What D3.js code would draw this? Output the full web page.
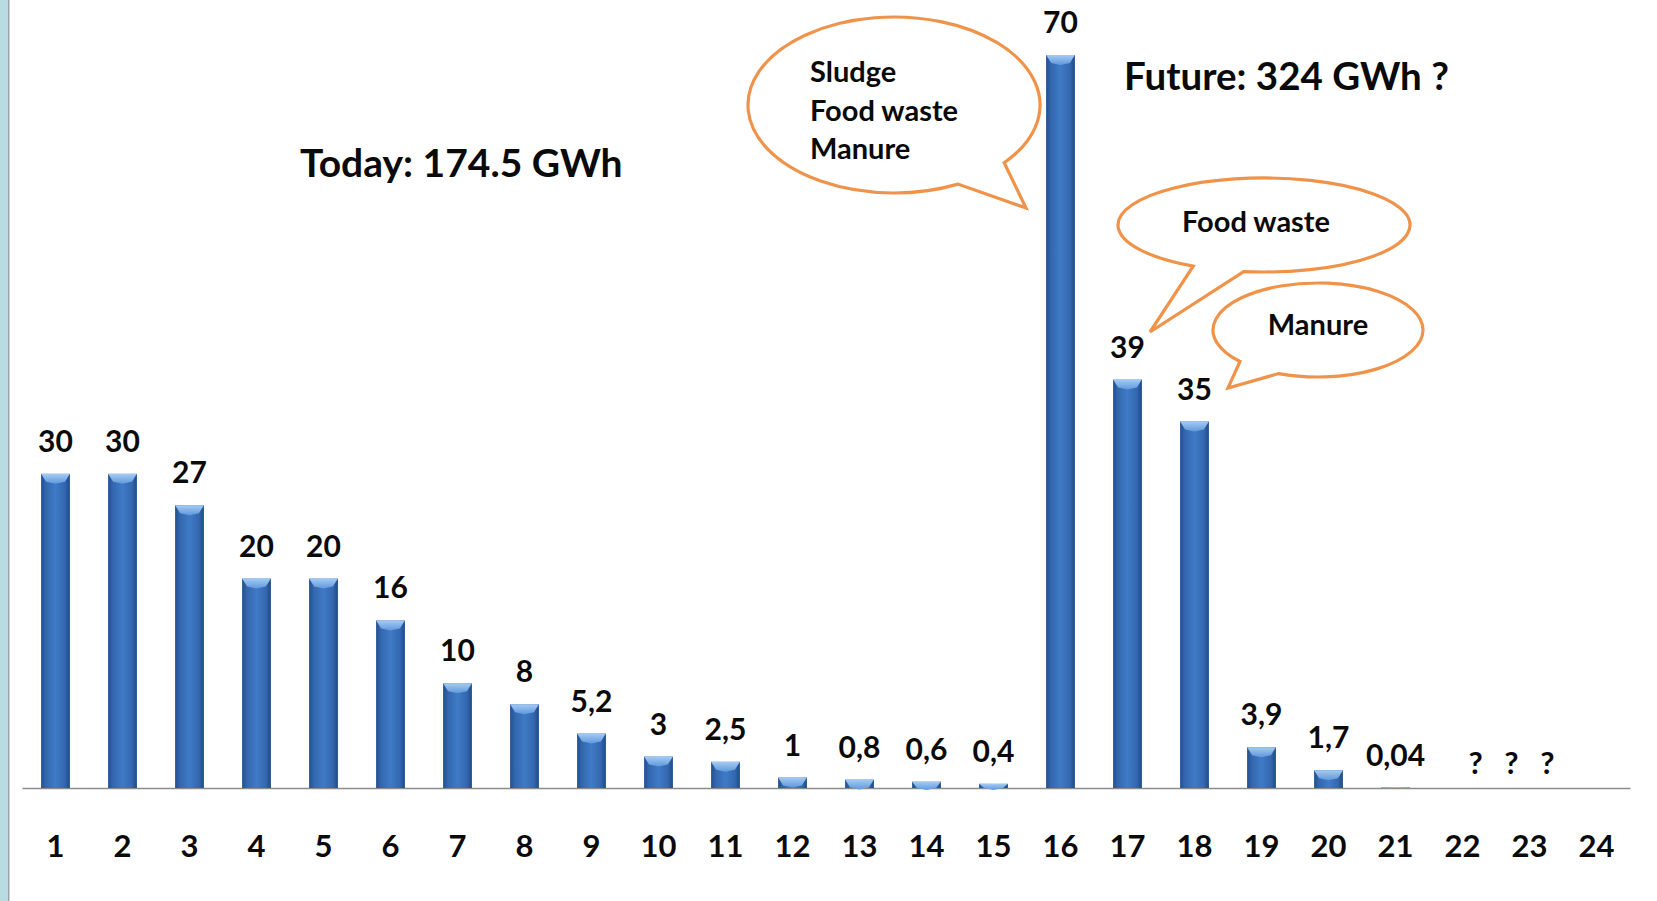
<!DOCTYPE html>
<html>
<head>
<meta charset="utf-8">
<script src="https://cdn.jsdelivr.net/npm/d3@7/dist/d3.min.js"></script>
<style>
  html, body { margin: 0; padding: 0; background: #fff; }
  svg { display: block; }
  text { font-family: Lato, "Open Sans", sans-serif; font-weight: 700; fill: #0a0a0a; }
</style>
</head>
<body>
<svg id="chart" width="1657" height="901"></svg>
<script>
// ---- data ----
const categories = ["1","2","3","4","5","6","7","8","9","10","11","12","13","14","15","16","17","18","19","20","21","22","23","24"];
const values = [30, 30, 27, 20, 20, 16, 10, 8, 5.2, 3, 2.5, 1, 0.8, 0.6, 0.4, 70, 39, 35, 3.9, 1.7, 0.04, null, null, null];
const valueLabels = ["30","30","27","20","20","16","10","8","5,2","3","2,5","1","0,8","0,6","0,4","70","39","35","3,9","1,7","0,04","","",""];
const unknownLabel = "? ? ?";
const todayText = "Today: 174.5 GWh";
const futureText = "Future: 324 GWh ?";
const bubbleSludge = ["Sludge", "Food waste", "Manure"];
const bubbleFood = ["Food waste"];
const bubbleManure = ["Manure"];

// ---- layout ----
const svg = d3.select("#chart");
const W = 1657, H = 901;
const baseY = 788;

const x = d3.scaleBand().domain(categories).range([22, 1630]).paddingInner(0.57).paddingOuter(0.285);
const y = d3.scaleLinear().domain([0, 70]).range([baseY, 55]);

// left border strip
svg.append("rect").attr("x", 0).attr("y", 0).attr("width", 8).attr("height", H).attr("fill", "#b9dbe2");
svg.append("rect").attr("x", 8).attr("y", 0).attr("width", 1.5).attr("height", H).attr("fill", "#9aa4a8");

// gradients
const defs = svg.append("defs");
const g1 = defs.append("linearGradient").attr("id", "barGrad").attr("x1", "0%").attr("x2", "100%").attr("y1", "0%").attr("y2", "0%");
[[0, "#22508f"], [0.18, "#3468b0"], [0.5, "#3f7ac6"], [0.82, "#3468b0"], [1, "#1f4a85"]].forEach(([o, c]) =>
  g1.append("stop").attr("offset", o).attr("stop-color", c));
const g2 = defs.append("linearGradient").attr("id", "topGrad").attr("x1", "0%").attr("x2", "0%").attr("y1", "0%").attr("y2", "100%");
[[0, "#a4cbf4"], [1, "#5f98dc"]].forEach(([o, c]) => g2.append("stop").attr("offset", o).attr("stop-color", c));

// axis
const axis = d3.axisBottom(x).tickSize(0).tickPadding(0);
const ax = svg.append("g").attr("transform", `translate(0,${baseY})`).call(axis);
ax.select(".domain").attr("stroke", "#8c8c8c").attr("stroke-width", 1.5);
ax.selectAll(".tick text")
  .attr("y", 69).attr("dy", 0)
  .style("font-family", "Lato, sans-serif").style("font-weight", 700)
  .style("font-size", "31px").attr("fill", "#0a0a0a");

// bars
const data = categories.map((c, i) => ({ c, v: values[i], lab: valueLabels[i] })).filter(d => d.v != null);
const bw = x.bandwidth();
const bars = svg.append("g");
bars.selectAll("rect.bar").data(data).enter().append("rect")
  .attr("class", "bar")
  .attr("x", d => x(d.c)).attr("width", bw)
  .attr("y", d => y(d.v)).attr("height", d => baseY - y(d.v))
  .attr("fill", "url(#barGrad)");
bars.selectAll("path.bevel").data(data.filter(d => baseY - y(d.v) > 2)).enter().append("path")
  .attr("class", "bevel")
  .attr("fill", "url(#topGrad)")
  .attr("d", d => {
    const x0 = x(d.c), x1 = x0 + bw, t = y(d.v);
    const h = Math.min(8, baseY - t);
    return `M${x0},${t} L${x1},${t} L${x1 - 5},${t + h} L${x0 + bw / 2},${t + h + 2} L${x0 + 5},${t + h} Z`;
  });

// value labels
svg.append("g").selectAll("text").data(data).enter().append("text")
  .attr("x", d => x(d.c) + bw / 2)
  .attr("y", d => y(d.v) - 22)
  .attr("text-anchor", "middle")
  .style("font-size", "30px")
  .text(d => d.lab);

svg.append("text")
  .attr("x", x("23") + bw / 2 - 18).attr("y", 774)
  .attr("text-anchor", "middle").style("font-size", "31px")
  .style("word-spacing", "14px")
  .text(unknownLabel);

// titles
svg.append("text").attr("x", 300).attr("y", 177).style("font-size", "39px").text(todayText);
svg.append("text").attr("x", 1124).attr("y", 90).style("font-size", "38.5px").text(futureText);

// speech bubbles
function bubble(cx, cy, rx, ry, a1, a2, tip) {
  const r = Math.PI / 180;
  const p1 = [cx + rx * Math.cos(a1 * r), cy + ry * Math.sin(a1 * r)];
  const p2 = [cx + rx * Math.cos(a2 * r), cy + ry * Math.sin(a2 * r)];
  const path = `M${p1[0]},${p1[1]} L${tip[0]},${tip[1]} L${p2[0]},${p2[1]} A${rx},${ry} 0 1 1 ${p1[0]},${p1[1]} Z`;
  svg.append("path").attr("d", path).attr("fill", "#fff").attr("stroke", "#f0934a").attr("stroke-width", 3.2)
    .attr("stroke-linejoin", "miter");
}
bubble(894, 105, 146, 88, 41, 64, [1026, 208]);
bubble(1264, 225, 146, 47, 98, 119, [1150, 332]);
bubble(1318, 330, 105, 47, 112, 138, [1228, 388]);

bubbleSludge.forEach((t, i) => {
  svg.append("text").attr("x", 810).attr("y", 82 + i * 38.5).style("font-size", "29px").text(t);
});
svg.append("text").attr("x", 1256).attr("y", 232).attr("text-anchor", "middle").style("font-size", "29px").text(bubbleFood[0]);
svg.append("text").attr("x", 1318).attr("y", 335).attr("text-anchor", "middle").style("font-size", "29px").text(bubbleManure[0]);
</script>
</body>
</html>
